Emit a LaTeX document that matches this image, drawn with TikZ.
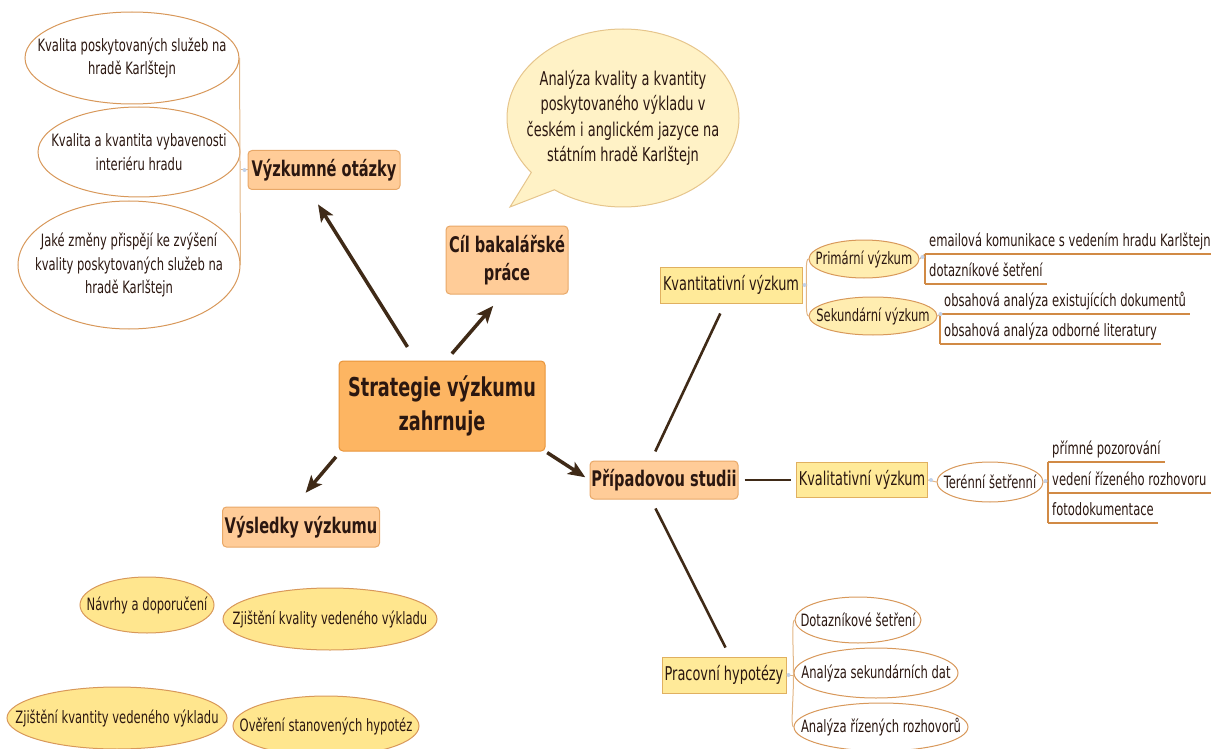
\documentclass[tikz,border=0pt]{standalone}
\usepackage{fontspec}
\setmainfont{DejaVu Sans}[FakeStretch=0.68]
\usetikzlibrary{shapes.geometric,shapes.callouts,arrows.meta,calc}
\definecolor{txt}{HTML}{2B1710}
\definecolor{mainfill}{HTML}{FDB562}
\definecolor{mainborder}{HTML}{E8943A}
\definecolor{orfill}{HTML}{FFCC98}
\definecolor{orborder}{HTML}{E8A868}
\definecolor{yefill}{HTML}{FFEA99}
\definecolor{yeborder}{HTML}{E0B060}
\definecolor{ellyfill}{HTML}{FFE68E}
\definecolor{ellborder}{HTML}{D8985A}
\definecolor{bubfill}{HTML}{FFF2C6}
\definecolor{bubborder}{HTML}{E6C58C}
\definecolor{arrowc}{HTML}{3F2A17}
\definecolor{connc}{HTML}{E2B584}
\definecolor{ulc}{HTML}{D18A45}
\definecolor{dotc}{HTML}{C2D2EA}
\tikzset{
  box/.style={rectangle, rounded corners=4pt, line width=1pt, align=center, inner sep=0pt, text=txt},
  mainbox/.style={box, fill=mainfill, draw=mainborder, font=\bfseries\fontsize{26}{34}\selectfont},
  orbox/.style={box, fill=orfill, draw=orborder, font=\bfseries\fontsize{21.5}{28}\selectfont},
  yebox/.style={rectangle, line width=1pt, inner sep=0pt, align=center, text=txt, fill=yefill, draw=yeborder, font=\fontsize{19}{23}\selectfont},
  ell/.style={ellipse, inner sep=0pt, line width=1pt},
  etext/.style={align=center, inner sep=0pt, text=txt, font=\fontsize{17}{23.5}\selectfont},
  btext/.style={align=center, inner sep=0pt, text=txt, font=\fontsize{19}{25.5}\selectfont},
  whell/.style={ell, fill=white, draw=ellborder},
  yell/.style={ell, fill=ellyfill, draw=ellborder},
  leaf/.style={anchor=south west, inner xsep=4pt, inner ysep=2pt, text depth=5pt, text=txt, font=\fontsize{17}{20}\selectfont},
  arr/.style={line width=3.5pt, draw=arrowc, -{Stealth[length=17pt,width=14pt,inset=4pt]}},
  tie/.style={line width=2.6pt, draw=arrowc},
  conn/.style={line width=1pt, draw=connc},
  uline/.style={line width=1.6pt, draw=ulc},
  vline/.style={line width=1.1pt, draw=ulc},
}
\begin{document}
\begin{tikzpicture}[x=1pt,y=-1pt]
\useasboundingbox (0,0) rectangle (1211,749);

% left question ellipses
\node[whell, minimum width=214pt, minimum height=92pt, label={[etext]center:{Kvalita poskytovaných služeb na\\hradě Karlštejn}}] (q1) at (132,58) {};
\node[whell, minimum width=202pt, minimum height=90pt, label={[etext]center:{Kvalita a kvantita vybavenosti\\interiéru hradu}}] (q2) at (139,152) {};
\node[whell, minimum width=222pt, minimum height=128pt, label={[etext]center:{Jaké změny přispějí ke zvýšení\\kvality poskytovaných služeb na\\hradě Karlštejn}}] (q3) at (129,265) {};

% main boxes
\node[orbox, minimum width=152pt, minimum height=39pt] (otazky) at (324,170) {Výzkumné otázky};
\node[orbox, minimum width=122pt, minimum height=68pt] (cil) at (507,260) {Cíl bakalářské\\práce};
\node[mainbox, minimum width=206pt, minimum height=90pt] (strat) at (442,406) {Strategie výzkumu\\zahrnuje};
\node[orbox, minimum width=157pt, minimum height=40pt] (vysl) at (301,527) {Výsledky výzkumu};
\node[orbox, minimum width=148pt, minimum height=38pt] (pripad) at (664,480) {Případovou studii};

% callout
\node[ellipse callout, callout absolute pointer={(510,207)}, callout pointer arc=16,
      minimum width=232pt, minimum height=178pt, inner sep=0pt, line width=1pt,
      fill=bubfill, draw=bubborder,
      label={[btext]center:{Analýza kvality a kvantity\\poskytovaného výkladu v\\českém i anglickém jazyce na\\státním hradě Karlštejn}}] (goal) at (623,118) {};

% results ellipses
\node[yell, minimum width=134pt, minimum height=56pt, label={[etext]center:{Návrhy a doporučení}}] (r1) at (147,605) {};
\node[yell, minimum width=214pt, minimum height=62pt, label={[etext]center:{Zjištění kvality vedeného výkladu}}] (r2) at (330,619) {};
\node[yell, minimum width=220pt, minimum height=62pt, label={[etext]center:{Zjištění kvantity vedeného výkladu}}] (r3) at (117,718) {};
\node[yell, minimum width=186pt, minimum height=60pt, label={[etext]center:{Ověření stanovených hypotéz}}] (r4) at (326,726) {};

% yellow boxes
\node[yebox, minimum width=142pt, minimum height=36pt] (kvant) at (731,285) {Kvantitativní výzkum};
\node[yebox, minimum width=131pt, minimum height=35pt] (kval) at (862,480) {Kvalitativní výzkum};
\node[yebox, minimum width=124pt, minimum height=36pt] (prac) at (724,675) {Pracovní hypotézy};

% sub ellipses
\node[yell, fill=ellyfill!70!white, minimum width=110pt, minimum height=38pt, label={[etext]center:{Primární výzkum}}] (prim) at (864,259) {};
\node[yell, fill=ellyfill!70!white, minimum width=128pt, minimum height=38pt, label={[etext]center:{Sekundární výzkum}}] (sek) at (873,316) {};
\node[whell, minimum width=106pt, minimum height=40pt, label={[etext]center:{Terénní šetřenní}}] (ter) at (990,482) {};
\node[whell, minimum width=126pt, minimum height=46pt, label={[etext]center:{Dotazníkové šetření}}] (h1) at (858,620) {};
\node[whell, minimum width=164pt, minimum height=50pt, label={[etext]center:{Analýza sekundárních dat}}] (h2) at (876,673) {};
\node[whell, minimum width=174pt, minimum height=48pt, label={[etext]center:{Analýza řízených rozhovorů}}] (h3) at (881,727) {};

% leaves
\node[leaf] (pl1) at (925,254) {emailová komunikace s vedením hradu Karlštejn};
\node[leaf] (pl2) at (925,284) {dotazníkové šetření};
\node[leaf] (sl1) at (940,314) {obsahová analýza existujících dokumentů};
\node[leaf] (sl2) at (940,344) {obsahová analýza odborné literatury};
\node[leaf] (tl1) at (1048,462) {přímné pozorování};
\node[leaf] (tl2) at (1048,493) {vedení řízeného rozhovoru};
\node[leaf] (tl3) at (1048,523) {fotodokumentace};

% arrows from the centre
\draw[arr, shorten <=16pt, shorten >=17pt] ($(strat.north)+(-26,0)$) -- ($(otazky.south)+(-15,0)$);
\draw[arr, shorten <=9pt, shorten >=15pt] ($(strat.north)+(4,0)$) -- ($(cil.south)+(-4,0)$);
\draw[arr, shorten <=7pt, shorten >=18pt] ($(strat.south west)+(2,0)$) -- ($(vysl.north)+(-7,0)$);
\draw[arr, shorten <=2pt, shorten >=5pt] (strat.south east) -- (pripad.west);

% ties from case study
\draw[tie, shorten <=10pt, shorten >=11pt] ($(pripad.north)+(-13,0)$) -- ($(kvant.south)+(-6,0)$);
\draw[tie] (pripad.east) ++(6,0) -- ($(kval.west)+(-5,0)$);
\draw[tie, shorten <=10pt, shorten >=10pt] ($(pripad.south)+(-13,0)$) -- ($(prac.north)+(6,0)$);

% bracket: questions
\draw[conn] (q1.east) -- (q3.east);
\draw[conn] (otazky.west) -- ++(-7,0);

% bracket: quantitative
\coordinate (kb) at ($(kvant.east)+(4,0)$);
\draw[conn] (kvant.east) -- (kb);
\draw[conn] (prim.west) .. controls ($(prim.west)+(-3,0)$) and ($(kb)+(0,-12)$) .. (kb)
             .. controls ($(kb)+(0,14)$) and ($(sek.west)+(-3,0)$) .. (sek.west);

% primary leaves
\draw[conn] (prim.east) -- (pl1.south west);
\draw[uline] (pl1.south west) -- (pl1.south east);
\draw[uline] (pl2.south west) -- (pl2.south east);
\draw[vline] (pl1.south west) -- (pl2.south west);

% secondary leaves
\draw[conn] (sek.east) -- (sl1.south west);
\draw[uline] (sl1.south west) -- (sl1.south east);
\draw[uline] (sl2.south west) -- (sl2.south east);
\draw[vline] (sl1.south west) -- (sl2.south west);

% qualitative
\draw[conn] (kval.east) -- (ter.west);
\draw[conn] (ter.east) -- (ter.east -| tl1.south west);
\draw[uline] (tl1.south west) -- (tl1.south east);
\draw[uline] (tl2.south west) -- (tl2.south east);
\draw[uline] (tl3.south west) -- (tl3.south east);
\draw[vline] (tl1.south west) -- (tl3.south west);

% hypotheses bracket
\coordinate (pb) at ($(prac.east)+(7,0)$);
\draw[conn] (prac.east) -- (pb) -- (h2.west);
\draw[conn] (h1.west) .. controls ($(h1.west)+(-3,0)$) and ($(pb)+(0,-25)$) .. (pb)
            .. controls ($(pb)+(0,25)$) and ($(h3.west)+(-3,0)$) .. (h3.west);

% junction handles
\fill[dotc] ($(otazky.west)+(-3,0)$) circle (2pt);
\fill[dotc] ($(kvant.east)+(2,0)$) circle (2pt);
\fill[dotc] ($(prim.east)+(3,-2)$) circle (2pt);
\fill[dotc] ($(sek.east)+(3,-2)$) circle (2pt);
\fill[dotc] ($(kval.east)+(3,0)$) circle (2pt);
\fill[dotc] ($(ter.east)+(2,-1)$) circle (2pt);
\fill[dotc] ($(prac.east)+(2,0)$) circle (2pt);
\end{tikzpicture}
\end{document}
